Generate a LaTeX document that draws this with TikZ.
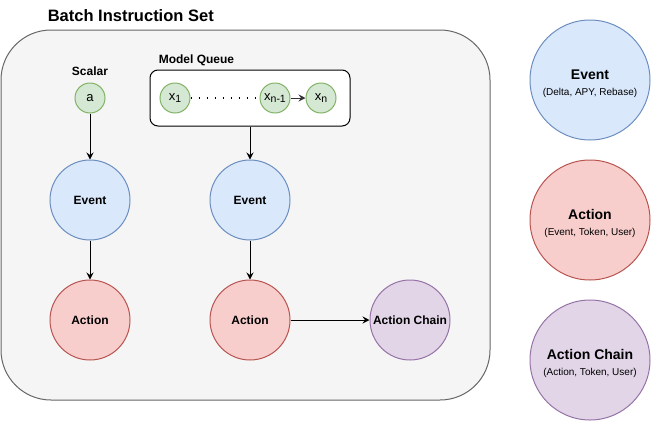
\documentclass[tikz,border=0pt]{standalone}
\usepackage{fontspec}
\setmainfont{Liberation Sans}
\usetikzlibrary{arrows.meta}

\definecolor{grnfill}{HTML}{D5E8D4}\definecolor{grnline}{HTML}{82B366}
\definecolor{blufill}{HTML}{DAE8FC}\definecolor{bluline}{HTML}{6C8EBF}
\definecolor{redfill}{HTML}{F8CECC}\definecolor{redline}{HTML}{B85450}
\definecolor{purfill}{HTML}{E1D5E7}\definecolor{purline}{HTML}{9673A6}
\definecolor{boxfill}{HTML}{F5F5F5}\definecolor{boxline}{HTML}{666666}
\newcommand{\idx}[1]{\raisebox{-2.5pt}{\fontsize{10.5}{11}\selectfont #1}}
\newcommand{\legtitle}[1]{\rule{0pt}{17pt}{\fontsize{14}{16}\selectfont\bfseries #1}}

\begin{document}
\begin{tikzpicture}[x=1pt,y=-1pt,line width=1pt,
    font=\fontsize{12}{14}\selectfont,
    val/.style={circle,draw=grnline,fill=grnfill,minimum size=30pt,inner sep=0pt,font=\fontsize{13}{14}\selectfont},
    ev/.style={circle,draw=bluline,fill=blufill,minimum size=80pt,inner sep=0pt,font=\fontsize{12}{14}\selectfont\bfseries},
    act/.style={circle,draw=redline,fill=redfill,minimum size=80pt,inner sep=0pt,font=\fontsize{12}{14}\selectfont\bfseries},
    chain/.style={circle,draw=purline,fill=purfill,minimum size=80pt,inner sep=0pt,font=\fontsize{12}{14}\selectfont\bfseries},
    legend/.style={minimum size=120pt,align=center,font=\fontsize{10}{16}\selectfont},
    flow/.style={-{Stealth[length=7pt,width=7pt,inset=2.5pt]}}]
  \useasboundingbox (0,0) rectangle (651,421);
  % container and titles
  \node[draw=boxline,fill=boxfill,rounded corners=50pt,minimum width=489pt,minimum height=370pt] (batch) at (245.5,215) {};
  \node[font=\fontsize{16.5}{18}\selectfont\bfseries,anchor=west] (title) at (44,16) {Batch Instruction Set};
  \node[font=\fontsize{12}{14}\selectfont\bfseries] (scalarlbl) at (90,71) {Scalar};
  \node[font=\fontsize{12}{14}\selectfont\bfseries,anchor=west] (queuelbl) at (155,60) {Model Queue};
  % model queue
  \node[draw=black,fill=white,rounded corners=8pt,minimum width=200pt,minimum height=56pt] (queue) at (250,98) {};
  \node[val] (a) at (90,98) {a};
  \node[val] (x1) at (175,98) {x\idx{1}};
  \node[val] (xm) at (275,98) {x\idx{n-1}};
  \node[val] (xn) at (321,98) {x\idx{n}};
  \draw[line width=1.5pt,dash pattern=on 1.5pt off 6.5pt] (x1) -- (xm);
  \draw[flow,draw=black!80] (xm) -- (xn);
  % events and actions
  \node[ev] (ev1) at (90,200) {Event};
  \node[ev] (ev2) at (250,200) {Event};
  \node[act] (act1) at (90,320) {Action};
  \node[act] (act2) at (250,320) {Action};
  \node[chain] (ch) at (410,320) {Action Chain};
  \draw[flow] (a) -- (ev1);
  \draw[flow] (queue) -- (ev2);
  \draw[flow] (ev1) -- (act1);
  \draw[flow] (ev2) -- (act2);
  \draw[flow] (act2) -- (ch);
  % legend
  \node[legend,circle,draw=bluline,fill=blufill] (lev) at (590,80) {\legtitle{Event}\\(Delta, APY, Rebase)};
  \node[legend,circle,draw=redline,fill=redfill] (lact) at (590,220) {\legtitle{Action}\\(Event, Token, User)};
  \node[legend,circle,draw=purline,fill=purfill] (lch) at (590,360) {\legtitle{Action Chain}\\(Action, Token, User)};
\end{tikzpicture}
\end{document}
